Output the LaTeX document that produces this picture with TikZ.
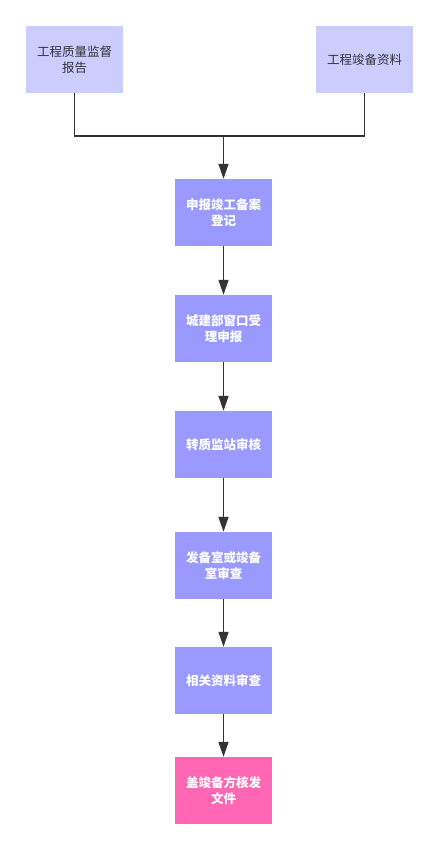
\documentclass[tikz,border=0pt]{standalone}
\usepackage{fontspec}
\setmainfont{Noto Sans CJK SC}
\usetikzlibrary{positioning, arrows.meta}

\definecolor{srcfill}{HTML}{CCCCFF}
\definecolor{stepfill}{HTML}{9999FF}
\definecolor{endfill}{HTML}{FF66B3}
\definecolor{linegray}{HTML}{333333}

\tikzset{
    srcbox/.style={rectangle, fill=srcfill, minimum width=97pt, minimum height=67pt, align=center, text=linegray, font=\fontsize{12.5}{16}\selectfont},
    stepbox/.style={rectangle, fill=stepfill, minimum width=97pt, minimum height=67pt, align=center, text=white, font=\fontsize{12.5}{16}\selectfont\bfseries},
    endbox/.style={stepbox, fill=endfill},
    flow/.style={draw=linegray, line width=1.5pt, -{Triangle[length=15pt, width=10pt]}},
    merger/.style={draw=linegray, line width=1.5pt}
}

\begin{document}
\begin{tikzpicture}[x=1pt, y=-1pt]
            \useasboundingbox (0, 0) rectangle (440, 851);

            \node[srcbox] (quality) at (74.5, 59.5) {工程质量监督\\报告};
            \node[srcbox] (docs) at (364.5, 59.5) {工程竣备资料};

            \node[stepbox] (apply) at (223.5, 212.5) {申报竣工备案\\登记};
            \node[stepbox] (window) at (223.5, 328.5) {城建部窗口受\\理申报};
            \node[stepbox] (station) at (223.5, 444.5) {转质监站审核};
            \node[stepbox] (office) at (223.5, 565.5) {发备室或竣备\\室审查};
            \node[stepbox] (review) at (223.5, 680.5) {相关资料审查};
            \node[endbox] (issue) at (223.5, 790.5) {盖竣备方核发\\文件};

            \coordinate (merge) at (223.5, 136);

            \draw[merger] (quality.south) |- (merge);
            \draw[merger] (docs.south) |- (merge);
            \draw[flow] (merge) -- (apply);
            \draw[flow] (apply) -- (window);
            \draw[flow] (window) -- (station);
            \draw[flow] (station) -- (office);
            \draw[flow] (office) -- (review);
            \draw[flow] (review) -- (issue);
        \end{tikzpicture}
\end{document}
